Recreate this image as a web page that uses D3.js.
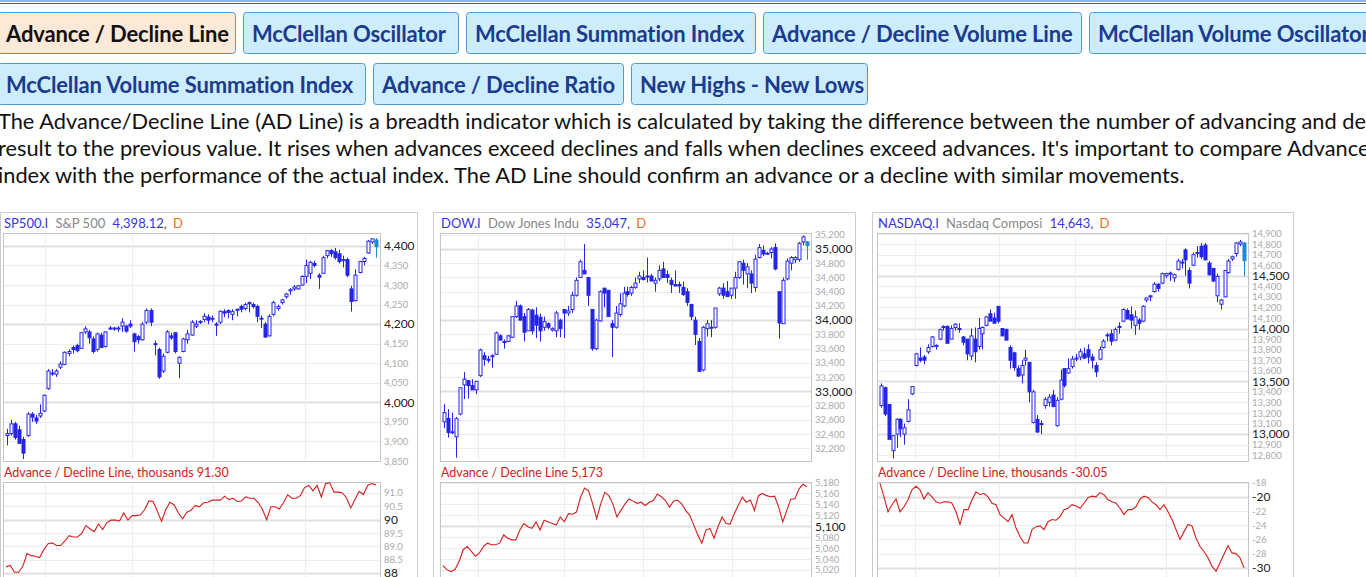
<!DOCTYPE html>
<html><head><meta charset="utf-8">
<script src="https://cdn.jsdelivr.net/npm/d3@7"></script>
<style>
body{margin:0;background:#fff;overflow:hidden;font-family:Lato,sans-serif}
svg{display:block}
</style></head><body>
<svg id="page" width="1366" height="577"></svg>
<script>
// tab labels
var tabsRow1 = ["Advance / Decline Line", "McClellan Oscillator", "McClellan Summation Index", "Advance / Decline Volume Line", "McClellan Volume Oscillator"];
var tabsRow2 = ["McClellan Volume Summation Index", "Advance / Decline Ratio", "New Highs - New Lows"];
var introLines = [
  "The Advance/Decline Line (AD Line) is a breadth indicator which is calculated by taking the difference between the number of advancing and declining issues and adding the",
  "result to the previous value. It rises when advances exceed declines and falls when declines exceed advances. It's important to compare Advance/Decline Line of an",
  "index with the performance of the actual index. The AD Line should confirm an advance or a decline with similar movements."
];

// candles: [open, high, low, close]
var spCandles = [
[3915,3932,3890,3920],[3920,3955,3915,3945],[3945,3950,3905,3910],[3930,3940,3895,3895],[3905,3912,3855,3870],
[3915,3975,3912,3970],[3970,3975,3950,3962],[3960,3968,3945,3952],[3965,3995,3960,3972],[3978,4020,3975,4018],
[4035,4085,4032,4080],[4075,4085,4068,4075],[4072,4085,4065,4080],[4090,4105,4085,4098],[4097,4130,4095,4128],
[4125,4135,4118,4130],[4140,4145,4125,4135],[4145,4150,4128,4132],[4138,4180,4137,4178],[4180,4195,4175,4188],
[4180,4185,4150,4165],[4162,4168,4125,4130],[4135,4178,4130,4175],[4172,4178,4140,4140],[4143,4182,4140,4180],
[4190,4195,4185,4190],[4190,4193,4183,4188],[4188,4195,4180,4190],[4195,4215,4180,4205],[4195,4198,4178,4182],
[4200,4210,4190,4195],[4175,4178,4130,4155],[4168,4172,4150,4160],[4160,4205,4158,4200],[4205,4240,4200,4235],
[4235,4240,4195,4205],[4150,4158,4120,4148],[4135,4140,4060,4065],[4080,4125,4075,4118],[4128,4185,4125,4180],
[4170,4178,4160,4165],[4178,4180,4125,4130],[4100,4118,4062,4115],[4130,4165,4128,4162],[4160,4185,4150,4175],
[4172,4210,4170,4205],[4195,4210,4190,4200],[4205,4210,4200,4207],[4212,4228,4205,4220],[4218,4225,4200,4210],
[4213,4222,4205,4215],[4200,4205,4170,4198],[4205,4235,4200,4233],[4232,4238,4218,4228],[4235,4237,4215,4230],
[4225,4238,4210,4232],[4235,4240,4220,4238],[4245,4250,4230,4238],[4240,4255,4235,4250],[4255,4258,4230,4252],
[4250,4255,4240,4245],[4245,4250,4205,4220],[4215,4222,4190,4215],[4200,4205,4165,4167],[4170,4225,4168,4220],
[4225,4260,4220,4255],[4240,4250,4235,4245],[4255,4265,4250,4262],[4270,4280,4265,4277],[4285,4292,4275,4288],
[4290,4300,4285,4295],[4290,4300,4288,4298],[4300,4325,4298,4322],[4322,4365,4305,4350],[4330,4362,4315,4358],
[4355,4362,4345,4350],[4325,4330,4290,4320],[4330,4375,4328,4370],[4375,4390,4368,4388],[4388,4392,4372,4380],
[4385,4395,4365,4370],[4380,4390,4355,4360],[4365,4375,4345,4365],[4365,4370,4320,4325],[4290,4298,4232,4258],
[4260,4340,4258,4325],[4332,4362,4330,4360],[4360,4372,4350,4368],[4382,4415,4380,4412],[4410,4418,4405,4418],
[4415,4420,4370,4398]];
var spBreadth = [88.23,88.28,88.03,88.03,88.25,88.73,88.65,88.63,88.58,88.88,89.10,89.13,89.03,89.03,89.20,89.40,89.35,89.35,89.48,89.78,
89.65,89.55,89.84,89.63,89.90,89.98,89.98,89.95,90.25,89.98,90.15,90.15,90.18,90.38,90.70,90.68,90.31,89.94,90.38,90.65,
90.55,90.25,90.03,90.28,90.35,90.53,90.48,90.63,90.65,90.73,90.73,90.73,90.88,90.75,90.80,90.68,90.70,90.85,90.80,90.80,
90.63,90.38,90.00,90.48,90.48,90.40,90.63,90.93,90.80,90.80,90.90,91.20,91.28,91.08,91.28,90.85,91.35,91.38,91.03,91.03,
91.00,90.81,90.44,90.75,91.06,90.94,91.28,91.35,91.31];

var dowCandles = [
[32570,32820,32480,32700],[32620,32750,32350,32420],[32430,32700,32400,32420],[32360,32640,32066,32615],[32680,33050,32660,33050],
[33090,33270,32890,33170],[33150,33150,32900,33080],[33080,33170,33020,33020],[33020,33120,32960,33140],[33220,33600,33200,33580],
[33500,33550,33360,33450],[33450,33500,33400,33440],[33500,33520,33330,33500],[33520,33840,33510,33820],[33780,33800,33710,33720],
[33700,33730,33600,33700],[33700,33790,33690,33780],[33760,34050,33750,34050],[34050,34270,34030,34200],[34200,34220,34050,34000],
[34050,34100,33700,33830],[33850,34170,33850,34150],[34140,34160,33800,33850],[34070,34180,33750,33930],[34040,34090,33700,33850],
[33900,34050,33850,33980],[33950,33970,33870,33900],[33860,33900,33840,33880],[33850,34130,33760,34100],[34000,34020,33760,33880],
[34150,34150,33750,34100],[34100,34200,34060,34130],[34150,34400,34100,34350],[34350,34600,34330,34560],[34600,34850,34600,34820],
[34700,35070,34680,34650],[34600,34600,34200,34350],[34150,34150,33570,33600],[33600,34020,33580,34000],[33990,34420,33980,34400],
[34450,34450,34180,34380],[34420,34420,34050,34050],[33950,34000,33480,33900],[33900,34200,33880,34100],[34080,34380,34050,34230],
[34200,34470,34180,34380],[34400,34470,34330,34360],[34380,34480,34340,34460],[34460,34600,34440,34520],[34580,34680,34520,34620],
[34600,34700,34560,34570],[34620,34880,34530,34610],[34620,34650,34550,34550],[34520,34600,34400,34560],[34580,34770,34550,34700],
[34720,34820,34600,34600],[34640,34700,34520,34600],[34560,34600,34380,34500],[34500,34700,34480,34480],[34500,34540,34380,34480],
[34460,34540,34340,34360],[34400,34450,34200,34250],[34220,34230,34000,34050],[34000,34050,33650,33800],[33700,33750,33300,33280],
[33300,33920,33280,33900],[33880,34000,33770,33950],[33900,34000,33760,33900],[33900,34170,33880,34170],[34370,34470,34340,34450],
[34450,34520,34300,34350],[34400,34550,34330,34330],[34350,34450,34300,34450],[34450,34680,34300,34600],[34600,34830,34580,34820],
[34800,34850,34500,34700],[34650,34800,34450,34750],[34650,34700,34380,34520],[34460,34920,34400,34860],[34880,35070,34870,35020],
[34980,35050,34900,34930],[34930,34960,34920,34940],[34950,35030,34870,35000],[35020,35080,34700,34720],[34400,34400,33740,33960],
[33950,34600,33950,34560],[34580,34870,34560,34830],[34800,34900,34700,34880],[34850,34900,34800,34880],[34850,35100,34820,35080],
[35100,35190,35050,35170],[35100,35110,34850,35047]];
var dowBreadth = [5028,5020,5017,5021,5036,5057,5063,5054,5045,5051,5063,5069,5066,5066,5069,5084,5078,5075,5075,5093,
5105,5099,5096,5108,5093,5111,5108,5105,5102,5117,5108,5123,5122,5126,5153,5170,5165,5141,5114,5141,
5162,5156,5141,5117,5129,5141,5150,5146,5142,5144,5138,5144,5147,5159,5154,5147,5135,5146,5148,5141,
5129,5120,5102,5084,5069,5093,5096,5078,5099,5117,5105,5104,5123,5138,5153,5144,5148,5129,5156,5160,
5156,5154,5155,5135,5108,5129,5150,5150,5168,5177,5172];

var ndqCandles = [
[13270,13480,13250,13456],[13440,13450,13170,13190],[13280,13280,12950,12950],[12843,12990,12770,12985],[13000,13150,12870,13140],
[13140,13150,12970,13050],[13000,13100,12900,13060],[13120,13330,13110,13230],[13380,13450,13370,13450],[13650,13770,13640,13760],
[13720,13820,13680,13700],[13730,13750,13660,13700],[13780,13850,13760,13820],[13830,13930,13820,13920],[13830,13850,13800,13840],
[13900,14000,13890,13990],[14010,14030,13980,14020],[14020,14030,13860,13860],[13900,14030,13900,14000],[14010,14050,13980,14040],
[14000,14050,13960,13990],[13920,13930,13840,13870],[13900,13900,13700,13760],[13740,14000,13700,13930],[13900,14010,13680,13780],
[13830,14100,13800,14000],[13950,14020,13800,14010],[14030,14120,14020,14110],[14140,14180,14080,14070],[14100,14150,14050,14050],
[14210,14210,14050,14070],[14000,14000,13950,13930],[13990,14000,13890,13890],[13820,13840,13620,13700],[13770,13780,13600,13630],
[13620,13650,13540,13550],[13560,13700,13480,13650],[13700,13800,13650,13720],[13680,13680,13300,13400],[13110,13420,13100,13400],
[13140,13180,13010,13020],[13100,13130,13000,13090],[13270,13350,13240,13330],[13300,13380,13260,13350],[13370,13420,13260,13260],
[13080,13350,13070,13320],[13330,13610,13320,13510],[13620,13620,13440,13460],[13580,13720,13570,13620],[13640,13740,13620,13710],
[13710,13760,13690,13720],[13730,13810,13700,13780],[13760,13820,13710,13720],[13800,13850,13670,13730],[13730,13760,13620,13700],
[13650,13680,13540,13590],[13710,13830,13700,13800],[13820,13900,13810,13880],[13940,13960,13880,13940],[13950,13990,13840,13880],
[13890,14010,13880,13990],[14020,14060,13950,14010],[14070,14190,14060,14180],[14170,14190,14100,14090],[14130,14210,14000,14080],
[14030,14170,13940,14110],[14080,14100,13990,14050],[14070,14220,14060,14210],[14270,14290,14250,14290],[14300,14320,14260,14310],
[14350,14440,14340,14420],[14420,14430,14350,14380],[14430,14530,14420,14520],[14500,14530,14480,14520],[14520,14540,14450,14525],
[14480,14520,14440,14510],[14560,14660,14550,14640],[14630,14660,14570,14620],[14745,14760,14500,14650],[14550,14580,14380,14430],
[14600,14720,14590,14700],[14720,14780,14670,14710],[14780,14810,14660,14680],[14790,14810,14650,14650],[14620,14640,14500,14510],
[14570,14570,14440,14450],[14310,14520,14250,14495],[14230,14280,14180,14270],[14300,14550,14300,14550],[14530,14660,14520,14640],
[14660,14690,14640,14680],[14710,14820,14680,14810],[14800,14840,14780,14820],[14810,14820,14495,14643]];
var ndqBreadth = [-18.1,-20.0,-22.1,-21.1,-20.3,-22.1,-21.4,-20.4,-19.0,-18.5,-19.0,-20.3,-19.4,-20.0,-20.7,-20.9,-20.7,-20.7,-20.9,-22.1,
-23.9,-21.8,-21.8,-20.4,-19.3,-19.7,-19.5,-20.0,-20.9,-21.1,-22.5,-23.0,-23.5,-22.5,-24.4,-25.6,-26.5,-26.5,-24.6,-24.2,
-24.1,-24.6,-23.5,-23.2,-23.3,-22.8,-21.8,-21.6,-21.1,-21.3,-21.6,-20.9,-20.1,-19.9,-20.0,-19.4,-19.7,-20.4,-20.7,-20.9,
-21.6,-22.5,-21.8,-21.8,-21.4,-20.3,-19.9,-20.1,-20.7,-21.1,-21.8,-21.1,-22.1,-23.2,-24.6,-26.0,-24.9,-23.9,-24.1,-25.8,
-27.0,-27.7,-28.6,-29.8,-30.5,-29.3,-28.1,-26.9,-27.9,-28.0,-28.6,-30.0];

var panels = [
  {sym:"SP500.I", name:"S&P 500", last:"4,398.12,", candles:spCandles, breadth:spBreadth,
   adTitle:"Advance / Decline Line, thousands 91.30", x0:0, w:417, px:3, plotW:377,
   pDom:[3850,4433], pTicks:d3.range(3850,4401,50), pMajor:[4000,4200,4400], pFmt:d3.format(","),
   bDom:[87.85,91.41], bTicks:[88,88.5,89,89.5,90,90.5,91], bMajor:[88,90], bFmt:function(v){return v===88||v===90?String(v):v.toFixed(1);},
   vgrid:[9.3,30.6,50.2,72.6]},
  {sym:"DOW.I", name:"Dow Jones Indu", last:"35,047,", candles:dowCandles, breadth:dowBreadth,
   adTitle:"Advance / Decline Line 5,173", x0:433, w:422, px:7, plotW:371,
   pDom:[32020,35225], pTicks:d3.range(32200,35201,200), pMajor:[33000,34000,35000], pFmt:d3.format(","),
   bDom:[5007,5181], bTicks:d3.range(5020,5181,20), bMajor:[5100], bFmt:d3.format(","),
   vgrid:[8.6,30.2,49.9,72.3]},
  {sym:"NASDAQ.I", name:"Nasdaq Composi", last:"14,643,", candles:ndqCandles, breadth:ndqBreadth,
   adTitle:"Advance / Decline Line, thousands -30.05", x0:872, w:421, px:5, plotW:371,
   pDom:[12745,14905], pTicks:d3.range(12800,14901,100), pMajor:[13000,13500,14000,14500], pFmt:d3.format(","),
   bDom:[-31.3,-17.9], bTicks:[-18,-20,-22,-24,-26,-28,-30], bMajor:[-20,-30], bFmt:String,
   vgrid:[8.7,30.3,49.8,73.0]}
];

// tab layout (left edges)
var tabX1 = [-3, 243, 466, 763, 1089, 1420];
var tabX2 = [-3, 373, 631, 875];

var svg = d3.select("#page");

svg.append("line").attr("x1",0).attr("x2",1366).attr("y1",1).attr("y2",1).attr("stroke","#1a72c4").attr("stroke-width",1.2);
svg.append("line").attr("x1",0).attr("x2",1366).attr("y1",3.5).attr("y2",3.5).attr("stroke","#1a72c4").attr("stroke-width",1);

function drawTabs(labels, xs, y, activeIdx) {
  labels.forEach(function(lbl, i) {
    var x = xs[i], w = xs[i + 1] - 8 - x;
    var g = svg.append("g");
    g.append("rect").attr("x", x + 0.5).attr("y", y).attr("width", w).attr("height", 41).attr("rx", 3)
      .attr("fill", i === activeIdx ? "#fde9d7" : "#ceedfc").attr("stroke", "#4d9ad8");
    g.append("text").attr("x", x + 9).attr("y", y + 29).text(lbl)
      .attr("font-size", 22).attr("font-weight", "bold").attr("font-family", "Lato").attr("letter-spacing", -0.15)
      .attr("fill", i === activeIdx ? "#111" : "#1b3b8f");
  });
}
drawTabs(tabsRow1, tabX1, 12.5, 0);
drawTabs(tabsRow2, tabX2, 63.5, -1);

introLines.forEach(function(l, i) {
  svg.append("text").attr("x", -2).attr("y", 129 + i * 27).text(l)
    .attr("font-size", 21.8).attr("font-family", "Lato").attr("fill", "#111");
});

panels.forEach(function(p) {
  var g = svg.append("g").attr("transform", "translate(" + p.x0 + ",0)");
  g.append("rect").attr("x", 0.5).attr("y", 212.5).attr("width", p.w).attr("height", 400).attr("fill", "none").attr("stroke", "#ccc");

  var head = g.append("text").attr("x", p.px + 1).attr("y", 228).attr("font-size", 13).attr("font-family", "Lato");
  head.append("tspan").text(p.sym).attr("fill", "#3535e0");
  head.append("tspan").text("  " + p.name).attr("fill", "#888").attr("dx", 4);
  head.append("tspan").text("  " + p.last).attr("fill", "#3535e0").attr("dx", 4);
  head.append("tspan").text(" D").attr("fill", "#f07020").attr("dx", 3);

  var px = p.px, pw = p.plotW, top = 233, bot = 461;
  var n = p.candles.length;
  var x = d3.scaleLinear().domain([-0.5, n - 0.5]).range([px + 2, px + pw - 2]);
  var y = d3.scaleLinear().domain(p.pDom).range([bot, top]);

  var grid = g.append("g");
  p.pTicks.forEach(function(t) {
    var maj = p.pMajor.indexOf(t) >= 0;
    grid.append("line").attr("x1", px).attr("x2", px + pw).attr("y1", Math.round(y(t)) + 0.5).attr("y2", Math.round(y(t)) + 0.5)
      .attr("stroke", maj ? "#e0e0e0" : "#ededed").attr("stroke-width", maj ? 2 : 1);
  });
  p.vgrid.forEach(function(v) {
    grid.append("line").attr("x1", Math.round(x(v)) + 0.5).attr("x2", Math.round(x(v)) + 0.5).attr("y1", top).attr("y2", bot).attr("stroke", "#ededed");
  });
  g.append("rect").attr("x", px + 0.5).attr("y", top + 0.5).attr("width", pw).attr("height", bot - top).attr("fill", "none").attr("stroke", "#c4c4c4");

  var ax = d3.axisRight(y).tickValues(p.pTicks).tickSize(0).tickPadding(3).tickFormat(p.pFmt);
  var axg = g.append("g").attr("transform", "translate(" + (px + pw + 1) + ",0)").call(ax);
  axg.select(".domain").remove();
  axg.selectAll("text").attr("font-family", "Lato")
    .attr("font-size", function(d) { return p.pMajor.indexOf(d) >= 0 ? 12 : 9.5; })
    .attr("fill", function(d) { return p.pMajor.indexOf(d) >= 0 ? "#222" : "#aaa"; });

  var cw = 3;
  var cg = g.append("g");
  p.candles.forEach(function(c, i) {
    var o = c[0], h = c[1], l = c[2], cl = c[3];
    var last = i === n - 1;
    var col = last ? "#1a8ad8" : "#2525e8";
    var cx = Math.round(x(i)) + 0.5;
    var yt = y(Math.max(o, cl)), yb = y(Math.min(o, cl));
    cg.append("line").attr("x1", cx).attr("x2", cx).attr("y1", y(h)).attr("y2", yt).attr("stroke", col);
    cg.append("line").attr("x1", cx).attr("x2", cx).attr("y1", yb).attr("y2", y(l)).attr("stroke", col);
    cg.append("rect").attr("x", cx - cw / 2).attr("y", yt).attr("width", cw).attr("height", Math.max(1, yb - yt))
      .attr("fill", (cl >= o && !last) ? "#fff" : col).attr("stroke", col).attr("stroke-width", 1);
  });

  // breadth panel
  g.append("text").attr("x", px + 1).attr("y", 477).text(p.adTitle).attr("font-size", 12.5).attr("font-family", "Lato").attr("fill", "#d42020");
  var bt = 482, bb = 580;
  var yb2 = d3.scaleLinear().domain(p.bDom).range([577, bt]);
  var xb = d3.scaleLinear().domain([0, p.breadth.length - 1]).range([px + 3, px + pw - 4]);
  p.bTicks.forEach(function(t) {
    var maj = p.bMajor.indexOf(t) >= 0;
    g.append("line").attr("x1", px).attr("x2", px + pw).attr("y1", Math.round(yb2(t)) + 0.5).attr("y2", Math.round(yb2(t)) + 0.5)
      .attr("stroke", maj ? "#e0e0e0" : "#ededed").attr("stroke-width", maj ? 2 : 1);
  });
  p.vgrid.forEach(function(v) {
    g.append("line").attr("x1", Math.round(x(v)) + 0.5).attr("x2", Math.round(x(v)) + 0.5).attr("y1", bt).attr("y2", bb).attr("stroke", "#ededed");
  });
  g.append("rect").attr("x", px + 0.5).attr("y", bt + 0.5).attr("width", pw).attr("height", bb - bt).attr("fill", "none").attr("stroke", "#c4c4c4");
  var bax = d3.axisRight(yb2).tickValues(p.bTicks).tickSize(0).tickPadding(3).tickFormat(p.bFmt);
  var baxg = g.append("g").attr("transform", "translate(" + (px + pw + 1) + ",0)").call(bax);
  baxg.select(".domain").remove();
  baxg.selectAll("text").attr("font-family", "Lato")
    .attr("font-size", function(d) { return p.bMajor.indexOf(d) >= 0 ? 12 : 9.5; })
    .attr("fill", function(d) { return p.bMajor.indexOf(d) >= 0 ? "#222" : "#aaa"; });
  g.append("path").datum(p.breadth)
    .attr("d", d3.line().x(function(d, i) { return xb(i); }).y(function(d) { return yb2(d); }))
    .attr("fill", "none").attr("stroke", "#d41e1e").attr("stroke-width", 1.1);
});
</script>
</body></html>
